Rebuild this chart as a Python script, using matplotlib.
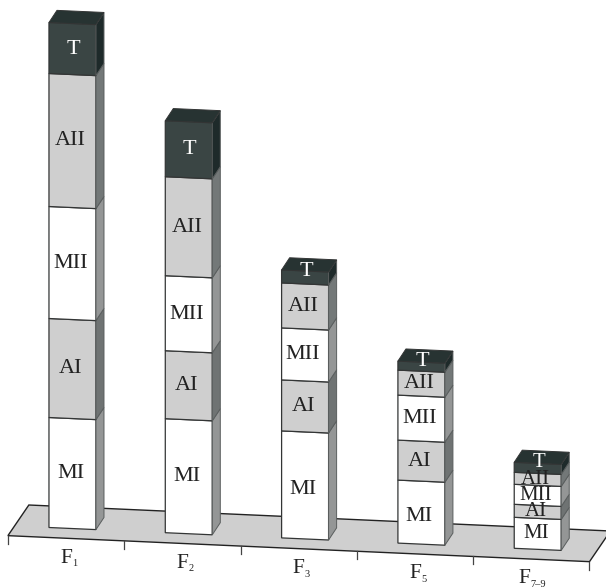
"""Stacked 3D-look bars of meiotic stages per generation."""

import matplotlib

matplotlib.use("Agg")
import matplotlib.pyplot as plt
from matplotlib.patches import Polygon
from matplotlib.transforms import Affine2D

generations = ["1", "2", "3", "5", "7–9"]
stages = ["MI", "AI", "MII", "AII", "T"]

# segment heights
mi_values = [110, 114, 107, 63, 31]
ai_values = [99, 68, 51, 40, 13]
mii_values = [112, 75, 52, 45, 20]
aii_values = [133, 99, 45, 25, 12]
t_values = [51, 56, 13, 9, 10]
stage_values = [mi_values, ai_values, mii_values, aii_values, t_values]

front_colors = ["#ffffff", "#cfcfcf", "#ffffff", "#cfcfcf", "#3a4544"]
side_colors = ["#949696", "#6f7373", "#949696", "#737878", "#1e2a2a"]
text_colors = ["#222222", "#222222", "#222222", "#222222", "#ffffff"]
top_color = "#273332"
edge_color = "#333535"
side_edge_color = "#5a5e5e"
floor_color = "#cfcfcf"

bar_width = 0.404
depth_x = 0.069
depth_y = 12.5
tilt = 5.2  # how far the baseline drops per category

plt.rcParams["font.family"] = ["Liberation Serif", "DejaVu Serif"]

fig = plt.figure(figsize=(6.06, 5.88), dpi=100)
ax = fig.add_axes([0, 0, 1, 1])
ax.set_xlim(-0.623, 4.587)
ax.set_ylim(-59.45, 528.55)
ax.axis("off")

# bars lean with the floor, so everything goes through the same shear
sheared = Affine2D.from_values(1, -tilt, 0, 1, 0, 0) + ax.transData

# floor
floor_left = -0.555
floor_right = 4.445
floor_front = -10
floor_back = 21.6
floor_shift = 0.18
ax.add_patch(
    Polygon(
        [
            (floor_left, floor_front),
            (floor_right, floor_front),
            (floor_right + floor_shift, floor_back),
            (floor_left + floor_shift, floor_back),
        ],
        closed=True,
        facecolor=floor_color,
        edgecolor="#222222",
        linewidth=1.0,
        transform=sheared,
        zorder=1,
    )
)

# ticks along the front edge of the floor
for i in range(len(generations) + 1):
    ax.plot(
        [floor_left + i, floor_left + i],
        [floor_front, floor_front - 8],
        color="#444444",
        linewidth=0.9,
        transform=sheared,
        zorder=1,
    )

# stacked bars
for i in range(len(generations)):
    left = i - bar_width / 2
    right = i + bar_width / 2
    bottom = 0
    for s, stage in enumerate(stages):
        height = stage_values[s][i]
        ax.bar(
            i,
            height,
            width=bar_width,
            bottom=bottom,
            color=front_colors[s],
            edgecolor=edge_color,
            linewidth=0.9,
            transform=sheared,
            zorder=3,
        )
        ax.add_patch(
            Polygon(
                [
                    (right, bottom),
                    (right + depth_x, bottom + depth_y),
                    (right + depth_x, bottom + height + depth_y),
                    (right, bottom + height),
                ],
                closed=True,
                facecolor=side_colors[s],
                edgecolor=side_edge_color,
                linewidth=0.7,
                transform=sheared,
                zorder=3,
            )
        )
        label_x = i - 0.017
        label_y = bottom + height / 2
        if stage == "T":
            label_x = i + 0.009
            if height < 20:
                label_y += 5.5
        # MI sits a bit low on the two middle-height bars
        if stage == "MI" and i in (2, 3):
            label_y -= 4
        ax.text(
            label_x,
            label_y,
            stage,
            color=text_colors[s],
            fontsize=15 if i == 4 else 16,
            ha="center",
            va="center",
            transform=sheared,
            zorder=5,
        )
        bottom += height
    ax.add_patch(
        Polygon(
            [
                (left, bottom),
                (right, bottom),
                (right + depth_x, bottom + depth_y),
                (left + depth_x, bottom + depth_y),
            ],
            closed=True,
            facecolor=top_color,
            edgecolor=edge_color,
            linewidth=0.7,
            transform=sheared,
            zorder=4,
        )
    )

    # category label, with the subscript as its own small text
    sub = generations[i]
    name_x = i - 0.107 - 0.03 * (len(sub) - 1)
    ax.text(
        name_x,
        -34.7,
        "F",
        color="#222222",
        fontsize=15.5,
        ha="left",
        va="baseline",
        transform=sheared,
    )
    ax.text(
        name_x + 0.103,
        -37.7,
        sub,
        color="#222222",
        fontsize=7.5,
        ha="left",
        va="baseline",
        transform=sheared,
    )

fig.savefig("out.png", dpi=100)
